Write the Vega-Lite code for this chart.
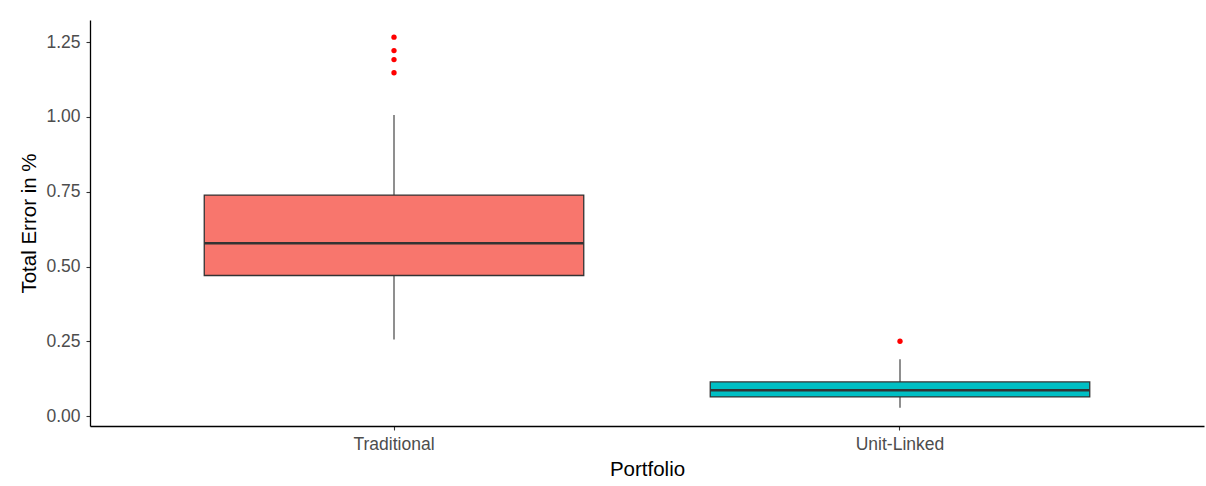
{
  "$schema": "https://vega.github.io/schema/vega-lite/v6.json",
  "autosize": {"type": "none"},
  "padding": {"left": 90, "top": 20, "right": 2, "bottom": 60},
  "width": 1114,
  "height": 406,
  "background": "white",
  "config": {
    "view": {"stroke": null},
    "font": "Liberation Sans",
    "axis": {
      "grid": false,
      "domainColor": "#000000",
      "domainWidth": 1.3,
      "tickColor": "#333333",
      "tickWidth": 1.1,
      "tickSize": 4,
      "labelColor": "#4D4D4D",
      "labelFontSize": 17.5,
      "labelFont": "Liberation Sans",
      "titleFont": "Liberation Sans",
      "titleFontSize": 20.5,
      "titleFontWeight": "normal",
      "titleColor": "#000000"
    }
  },
  "datasets": {
    "stats": [
      {"Portfolio": "Traditional", "lower": 0.256, "q1": 0.470, "median": 0.578, "q3": 0.739, "upper": 1.007},
      {"Portfolio": "Unit-Linked", "lower": 0.028, "q1": 0.064, "median": 0.086, "q3": 0.114, "upper": 0.190}
    ],
    "outliers": [
      {"Portfolio": "Traditional", "error": 1.267},
      {"Portfolio": "Traditional", "error": 1.222},
      {"Portfolio": "Traditional", "error": 1.192},
      {"Portfolio": "Traditional", "error": 1.148},
      {"Portfolio": "Unit-Linked", "error": 0.250}
    ]
  },
  "encoding": {
    "x": {
      "field": "Portfolio",
      "type": "nominal",
      "scale": {"type": "band", "domain": ["Traditional", "Unit-Linked"], "paddingInner": 0.25, "paddingOuter": 0.2258},
      "axis": {"labelAngle": 0, "labelPadding": 5, "titlePadding": 7, "title": "Portfolio"}
    }
  },
  "layer": [
    {
      "data": {"name": "stats"},
      "mark": {"type": "rule", "color": "#333333", "strokeWidth": 1.1},
      "encoding": {
        "y": {
          "field": "lower",
          "type": "quantitative",
          "scale": {"domain": [-0.0334, 1.3244], "nice": false, "zero": false},
          "axis": {"values": [0, 0.25, 0.5, 0.75, 1, 1.25], "format": ".2f", "title": "Total Error in %", "labelPadding": 6, "titlePadding": 6}
        },
        "y2": {"field": "upper"}
      }
    },
    {
      "data": {"name": "stats"},
      "mark": {"type": "bar", "stroke": "#333333", "strokeWidth": 1.3},
      "encoding": {
        "y": {"field": "q1", "type": "quantitative"},
        "y2": {"field": "q3"},
        "fill": {
          "field": "Portfolio",
          "type": "nominal",
          "scale": {"domain": ["Traditional", "Unit-Linked"], "range": ["#F8766D", "#00BFC4"]},
          "legend": null
        }
      }
    },
    {
      "data": {"name": "stats"},
      "mark": {"type": "tick", "color": "#333333", "thickness": 2.6, "size": 379.5, "opacity": 1},
      "encoding": {
        "y": {"field": "median", "type": "quantitative"}
      }
    },
    {
      "data": {"name": "outliers"},
      "mark": {"type": "point", "filled": true, "shape": "circle", "color": "#FF0000", "size": 28, "opacity": 1},
      "encoding": {
        "y": {"field": "error", "type": "quantitative"}
      }
    }
  ]
}
